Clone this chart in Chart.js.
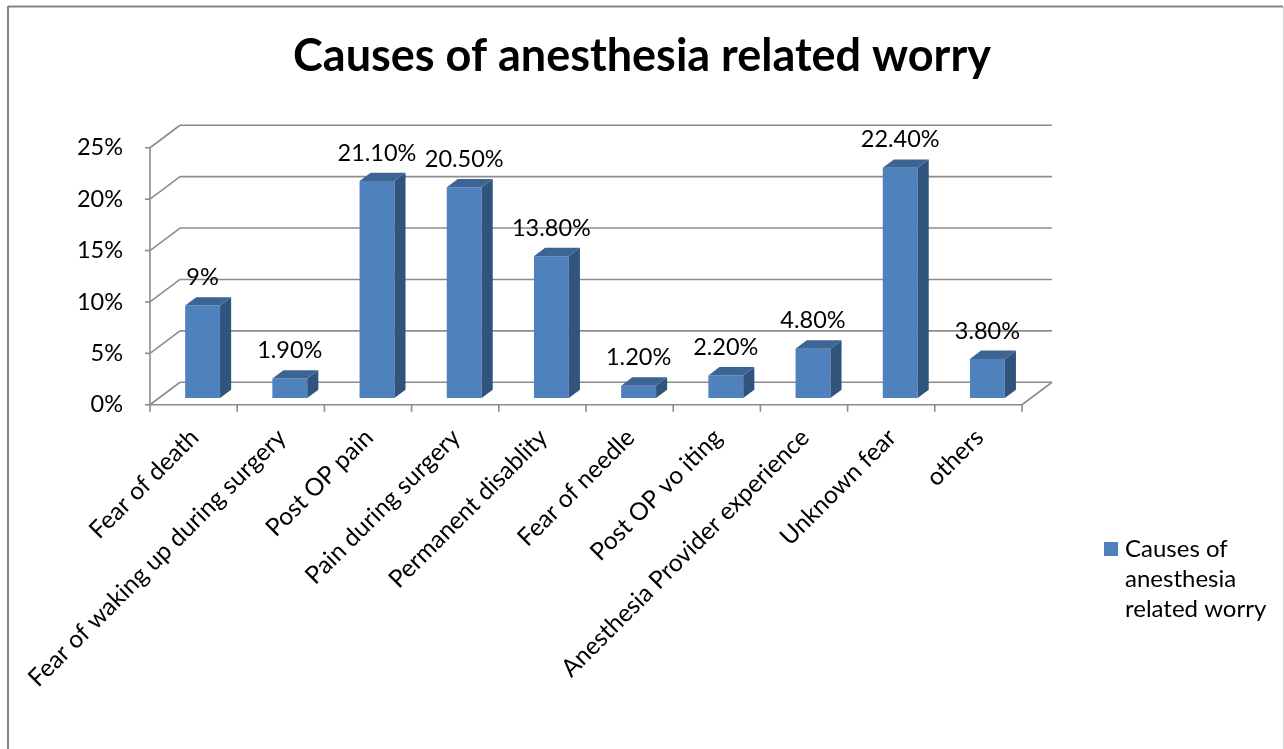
<!DOCTYPE html>
<html>
<head>
<meta charset="utf-8">
<title>Causes of anesthesia related worry</title>
<script src="https://cdn.jsdelivr.net/npm/chart.js@4.4.0/dist/chart.umd.min.js"></script>
<style>
    html, body { margin: 0; padding: 0; background: #fff; overflow: hidden; }
    #wrap { position: relative; width: 1284px; height: 749px; }
</style>
</head>
<body>
<div id="wrap"><canvas id="chart" width="1284" height="749"></canvas></div>
<script>
// chart data
const chartTitle = 'Causes of anesthesia related worry';
const seriesName = 'Causes of anesthesia related worry';
const categories = [
    'Fear of death',
    'Fear of waking up during surgery',
    'Post OP pain',
    'Pain during surgery',
    'Permanent disablity',
    'Fear of needle',
    'Post OP vo iting',
    'Anesthesia Provider experience',
    'Unknown fear',
    'others'
];
const values = [9, 1.9, 21.1, 20.5, 13.8, 1.2, 2.2, 4.8, 22.4, 3.8];
const yTicks = [0, 5, 10, 15, 20, 25];

// colours / 3D look
const frontColor = '#4F81BD';
const topColor = '#3D6594';
const sideColor = '#31547D';
const frameColor = '#8C8C8C';
const FONT = 'Lato, "Open Sans", sans-serif';

// depth of the floor (px) and where the bars sit in it
const DEPTH_X = 30, DEPTH_Y = -22.5;
const BAR_POS = 0.3, BAR_DEPTH = 0.37;
const front = { x: -DEPTH_X * BAR_POS, y: -DEPTH_Y * BAR_POS };
const back = { x: DEPTH_X * (1 - BAR_POS), y: DEPTH_Y * (1 - BAR_POS) };

function fmtPct(v) {
    return Number.isInteger(v) ? v + '%' : v.toFixed(2) + '%';
}

function line(ctx, x1, y1, x2, y2) {
    ctx.beginPath();
    ctx.moveTo(x1, y1);
    ctx.lineTo(x2, y2);
    ctx.stroke();
}

function poly(ctx, pts, color) {
    ctx.beginPath();
    ctx.moveTo(pts[0][0], pts[0][1]);
    for (let i = 1; i < pts.length; i++) ctx.lineTo(pts[i][0], pts[i][1]);
    ctx.closePath();
    ctx.fillStyle = color;
    ctx.fill();
}

// walls, floor and axis ticks of the 3D frame
const framePlugin = {
    id: 'frame3d',
    beforeDatasetsDraw(chart) {
        const ctx = chart.ctx;
        const xs = chart.scales.x, ys = chart.scales.y;
        const L = xs.left, R = xs.right;
        const y0 = ys.getPixelForValue(0);
        const yTop = ys.getPixelForValue(yTicks[yTicks.length - 1]);
        ctx.save();
        ctx.strokeStyle = frameColor;
        ctx.lineWidth = 1.6;
        yTicks.forEach(v => {
            const py = ys.getPixelForValue(v);
            line(ctx, L + front.x, py + front.y, L + back.x, py + back.y);
            line(ctx, L + back.x, py + back.y, R + back.x, py + back.y);
            line(ctx, L + front.x - 5, py + front.y, L + front.x, py + front.y);
        });
        line(ctx, L + front.x, y0 + front.y, L + front.x, yTop + front.y);
        line(ctx, L + front.x, y0 + front.y, R + front.x, y0 + front.y);
        line(ctx, R + front.x, y0 + front.y, R + back.x, y0 + back.y);
        // category boundary ticks
        const n = categories.length;
        for (let i = 0; i <= n; i++) {
            let bx;
            if (i === 0) bx = L;
            else if (i === n) bx = R;
            else bx = (xs.getPixelForValue(i - 1) + xs.getPixelForValue(i)) / 2;
            line(ctx, bx + front.x, y0 + front.y, bx + front.x, y0 + front.y + 7);
        }
        ctx.restore();
    },
    afterDatasetsDraw(chart) {
        const ctx = chart.ctx;
        const meta = chart.getDatasetMeta(0);
        const ddx = DEPTH_X * BAR_DEPTH, ddy = DEPTH_Y * BAR_DEPTH;
        ctx.save();
        meta.data.forEach((bar, i) => {
            const p = bar.getProps(['x', 'y', 'base', 'width'], true);
            const l = p.x - p.width / 2, r = p.x + p.width / 2;
            poly(ctx, [[r, p.y], [r + ddx, p.y + ddy], [r + ddx, p.base + ddy], [r, p.base]], sideColor);
            poly(ctx, [[l, p.y], [l + ddx, p.y + ddy], [r + ddx, p.y + ddy], [r, p.y]], topColor);
            ctx.fillStyle = '#000';
            ctx.font = '23.5px ' + FONT;
            ctx.textAlign = 'center';
            ctx.textBaseline = 'alphabetic';
            ctx.fillText(fmtPct(values[i]), p.x, p.y + ddy - 12);
        });
        ctx.restore();
    },
    afterDraw(chart) {
        const ctx = chart.ctx;
        ctx.save();
        // outer border
        ctx.strokeStyle = '#858585';
        ctx.lineWidth = 2;
        line(ctx, 8, 6.5, 1283, 6.5);
        line(ctx, 8, 6, 8, 749);
        ctx.strokeStyle = '#D4D4D4';
        ctx.lineWidth = 1;
        line(ctx, 1283.5, 7, 1283.5, 749);
        // legend
        const ds = chart.data.datasets[0];
        ctx.fillStyle = ds.backgroundColor;
        ctx.fillRect(1104, 542, 14, 14);
        ctx.fillStyle = '#000';
        ctx.font = '24px ' + FONT;
        ctx.textAlign = 'left';
        ctx.textBaseline = 'alphabetic';
        const words = ds.label.split(' ');
        const lines = [];
        let cur = '';
        words.forEach(w => {
            const t = cur ? cur + ' ' + w : w;
            if (cur && ctx.measureText(t).width > 152) {
                lines.push(cur);
                cur = w;
            } else {
                cur = t;
            }
        });
        if (cur) lines.push(cur);
        lines.forEach((t, k) => ctx.fillText(t, 1125, 557 + k * 30));
        ctx.restore();
    }
};

function initChart() {
    const canvas = document.getElementById('chart');
    Chart.defaults.font.family = FONT;
    Chart.defaults.color = '#000';

    new Chart(canvas, {
        type: 'bar',
        data: {
            labels: categories,
            datasets: [{
                label: seriesName,
                data: values,
                backgroundColor: frontColor,
                borderWidth: 0,
                categoryPercentage: 1,
                barPercentage: 0.4
            }]
        },
        options: {
            responsive: false,
            animation: false,
            layout: { padding: 0 },
            scales: {
                x: {
                    grid: { display: false, drawTicks: false },
                    border: { display: false },
                    ticks: {
                        autoSkip: false,
                        minRotation: 45,
                        maxRotation: 45,
                        padding: 25,
                        labelOffset: -8,
                        font: { size: 24.5 }
                    },
                    afterFit: s => { s.height = 351; }
                },
                y: {
                    min: 0,
                    max: 25,
                    grid: { display: false, drawTicks: false },
                    border: { display: false },
                    ticks: {
                        stepSize: 5,
                        padding: 36,
                        labelOffset: 6.75,
                        font: { size: 23.5 },
                        callback: v => v + '%'
                    },
                    afterFit: s => { s.width = 159; }
                },
                // empty axis that keeps room for the legend on the right
                legendSpace: {
                    position: 'right',
                    display: true,
                    grid: { display: false },
                    border: { display: false },
                    ticks: { display: false },
                    afterFit: s => { s.width = 253; }
                }
            },
            plugins: {
                legend: { display: false },
                tooltip: { enabled: false },
                title: {
                    display: true,
                    text: chartTitle,
                    color: '#000',
                    font: { size: 45, weight: 'bold' },
                    padding: { top: 29, bottom: 58 }
                }
            }
        },
        plugins: [framePlugin]
    });
}

document.addEventListener('DOMContentLoaded', initChart);
</script>
</body>
</html>
